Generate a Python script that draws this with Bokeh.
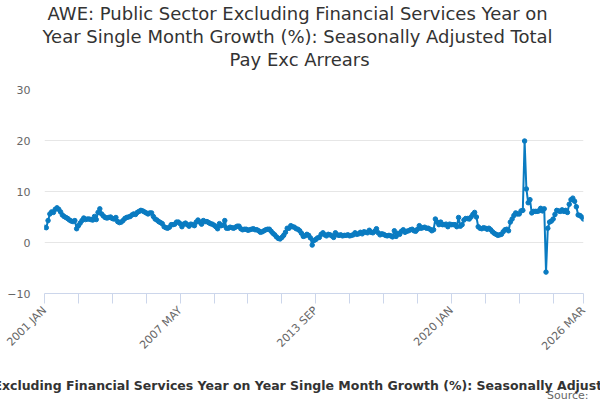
import math
import pandas as pd
from bokeh.plotting import figure
from bokeh.models import Range1d, FixedTicker, Title, ColumnDataSource
from bokeh.embed import file_html
from bokeh.resources import INLINE

# ---- data ----
start_month = "2001-01"
growth = [
    3.0, 2.9, 4.3, 5.6, 6.0, 5.9, 6.5, 6.8, 6.5, 6.0, 5.4, 5.1,   # 2001
    4.9, 4.7, 4.4, 4.2, 4.1, 4.3, 2.7, 3.3, 3.8, 4.3, 4.8, 4.5,   # 2002
    4.6, 4.6, 4.5, 4.4, 5.1, 4.5, 5.9, 6.6, 5.6, 5.2, 4.9, 4.8,   # 2003
    4.9, 5.0, 4.7, 4.6, 4.9, 4.1, 3.9, 4.0, 4.3, 4.7, 4.9, 5.0,   # 2004
    5.1, 5.4, 5.6, 5.5, 5.9, 6.1, 6.3, 6.2, 6.0, 5.8, 5.6, 5.8,   # 2005
    5.8, 5.1, 4.6, 4.4, 4.1, 3.9, 3.7, 3.1, 2.9, 2.8, 3.0, 3.5,   # 2006
    3.5, 3.6, 4.0, 4.0, 3.7, 3.1, 3.6, 3.8, 3.5, 3.2, 3.6, 3.5,   # 2007
    3.3, 4.0, 4.4, 4.0, 3.6, 4.3, 4.1, 4.1, 3.9, 3.7, 3.6, 3.4,   # 2008
    3.1, 2.7, 3.7, 3.3, 3.4, 4.3, 2.8, 2.8, 3.0, 2.9, 2.8, 3.0,   # 2009
    3.2, 3.2, 2.7, 2.5, 2.6, 2.6, 2.4, 2.5, 2.6, 2.7, 2.5, 2.5,   # 2010
    2.3, 2.0, 2.1, 2.3, 2.5, 2.6, 2.6, 2.2, 1.8, 1.5, 1.1, 0.8,   # 2011
    0.7, 1.0, 1.4, 2.0, 2.8, 2.8, 3.3, 3.1, 3.0, 2.7, 2.6, 2.3,   # 2012
    1.8, 1.2, 1.3, 1.6, 1.4, 0.9, -0.5, 0.4, 0.6, 0.9, 1.0, 1.6,  # 2013
    1.9, 1.5, 1.3, 1.6, 1.5, 1.3, 1.0, 1.9, 1.5, 1.4, 1.5, 1.3,   # 2014
    1.4, 1.4, 1.5, 1.3, 1.4, 1.5, 1.9, 1.6, 1.7, 2.0, 1.7, 2.1,   # 2015
    2.0, 1.9, 2.4, 2.0, 1.9, 2.2, 2.7, 1.9, 1.5, 1.7, 1.6, 1.4,   # 2016
    1.3, 1.4, 1.3, 1.1, 2.3, 1.2, 1.8, 1.6, 2.2, 2.5, 2.0, 2.2,   # 2017
    2.3, 2.5, 2.6, 2.3, 2.2, 2.6, 3.3, 2.8, 2.9, 3.0, 2.8, 2.8,   # 2018
    2.6, 2.3, 2.5, 4.6, 4.0, 3.5, 4.0, 3.5, 3.5, 3.6, 3.1, 3.6,   # 2019
    3.5, 3.5, 3.5, 3.1, 4.9, 3.2, 3.5, 4.4, 4.7, 4.7, 4.6, 5.0,   # 2020
    5.5, 5.9, 5.0, 3.1, 2.8, 2.7, 2.9, 2.8, 2.6, 2.8, 2.5, 2.1,   # 2021
    1.8, 1.6, 1.4, 1.5, 1.6, 2.1, 2.5, 2.6, 2.3, 4.0, 4.6, 5.3,   # 2022
    5.8, 5.6, 5.6, 6.2, 6.3, 19.9, 10.5, 7.8, 8.4, 5.8, 6.1, 6.1, # 2023
    6.1, 6.2, 6.7, 6.2, 6.6, -5.8, 2.8, 4.0, 4.2, 4.6, 5.5, 6.3,  # 2024
    6.2, 6.1, 6.4, 6.1, 6.3, 5.9, 7.5, 8.4, 8.7, 8.1, 7.0, 5.4,   # 2025
    5.3, 5.0, 4.6,                                                # 2026
]
tick_positions = [0, 19, 38, 57, 76, 95, 114, 133, 152, 171, 190, 209, 228, 247, 266, 285, 302]
labelled_ticks = [0, 76, 152, 228, 302]
y_ticks = [-10, 0, 10, 20, 30]
title_lines = [
    "AWE: Public Sector Excluding Financial Services Year on",
    "Year Single Month Growth (%): Seasonally Adjusted Total",
    "Pay Exc Arrears",
]
axis_title = ("AWE: Public Sector Excluding Financial Services Year on Year Single Month "
              "Growth (%): Seasonally Adjusted Total Pay Exc Arrears")
source_text = "Source:"

months = pd.period_range(start_month, periods=len(growth), freq="M")
month_labels = [m.strftime("%Y %b").upper() for m in months]
idx = list(range(len(growth)))
src = ColumnDataSource(dict(x=idx, y=growth, label=month_labels))

FONT = "DejaVu Sans"
LINE = "#0a7bc1"

p = figure(width=600, height=400, output_backend="svg", toolbar_location=None,
           title=None, x_range=Range1d(0, len(growth) - 1), y_range=Range1d(-10, 30),
           min_border_left=44, min_border_right=17, min_border_top=89, min_border_bottom=107)
p.outline_line_color = None
p.background_fill_color = "white"
p.border_fill_color = "white"

p.line("x", "y", source=src, line_color=LINE, line_width=2)
p.scatter("x", "y", source=src, size=4.5, fill_color=LINE, line_color=LINE)

# x axis
xa = p.xaxis[0]
xa.ticker = FixedTicker(ticks=tick_positions, minor_ticks=[])
xa.major_label_overrides = {i: (month_labels[i] if i in labelled_ticks else "") for i in tick_positions}
xa.major_label_orientation = math.pi / 4
xa.major_label_text_font = FONT
xa.major_label_text_font_size = "11px"
xa.major_label_text_color = "#666666"
xa.axis_line_color = "#ccd6eb"
xa.major_tick_line_color = "#ccd6eb"
xa.major_tick_out = 10
xa.major_tick_in = 0
xa.minor_tick_line_color = None
xa.axis_label = axis_title
xa.axis_label_text_font = FONT
xa.axis_label_text_font_size = "12.5px"
xa.axis_label_text_font_style = "bold"
xa.axis_label_text_color = "#333333"
xa.axis_label_standoff = 18

# y axis
ya = p.yaxis[0]
ya.ticker = FixedTicker(ticks=y_ticks, minor_ticks=[])
ya.axis_line_color = None
ya.major_tick_line_color = None
ya.minor_tick_line_color = None
ya.major_label_standoff = 8
ya.major_label_text_font = FONT
ya.major_label_text_font_size = "11px"
ya.major_label_text_color = "#666666"

p.xgrid.grid_line_color = None
p.ygrid.ticker = FixedTicker(ticks=y_ticks)
p.ygrid.grid_line_color = "#e6e6e6"

# source credit, tucked close under the axis title
p.add_layout(Title(text=source_text, align="right", vertical_align="top", text_font=FONT,
                   text_font_size="11px", text_font_style="normal", text_color="#666666",
                   offset=-5, standoff=-15), "below")

# a small blank spacer between the frame and the title block
p.add_layout(Title(text=" ", align="left", text_font=FONT, text_font_size="8px",
                   text_line_height=1.08, standoff=8.6), "above")

# title lines (left aligned with an offset so each line is centred near x=300)
title_offsets = [3, -2, 185]
for line, off in reversed(list(zip(title_lines, title_offsets))):
    p.add_layout(Title(text=line, align="left", text_font=FONT, text_font_size="18px",
                       text_line_height=0.98, text_font_style="normal", text_color="#333333",
                       offset=off, standoff=0), "above")

open("out.html", "w").write(file_html(p, INLINE))
